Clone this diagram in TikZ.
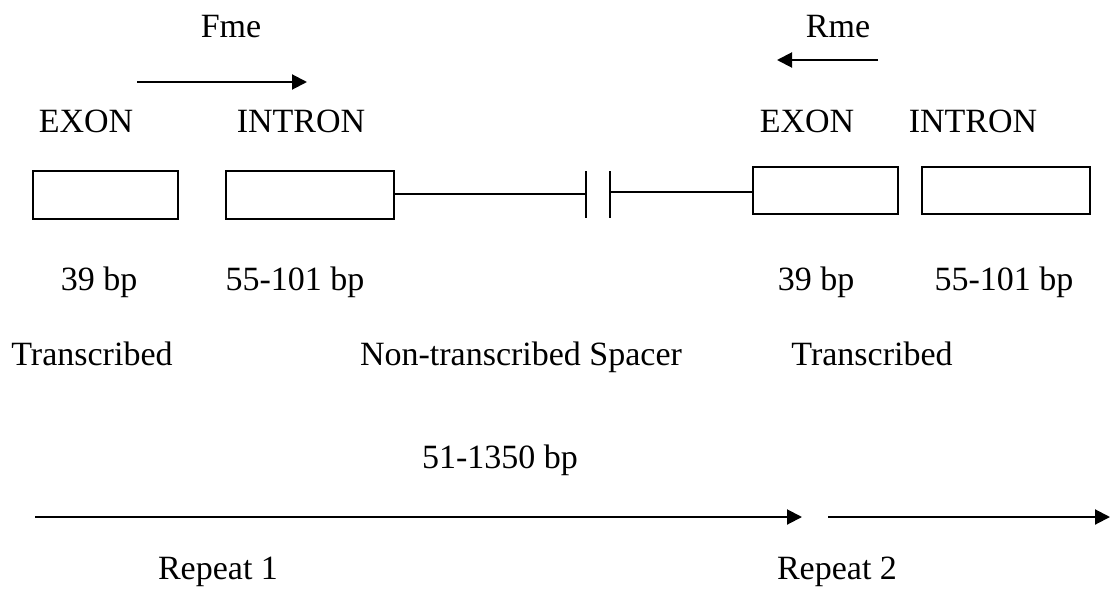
\documentclass[tikz,border=0pt]{standalone}
\usepackage{fontspec}
\setmainfont{Liberation Serif}
\usetikzlibrary{arrows.meta}
\begin{document}
\begin{tikzpicture}[x=1pt,y=-1pt,
  lbl/.style={anchor=base,inner sep=0pt,font=\fontsize{34}{40}\selectfont},
  gbox/.style={draw,line width=2pt,minimum width=#1,minimum height=48pt,inner sep=0pt},
  thin/.style={line width=1.6pt},
  bar/.style={line width=2.2pt},
  arr/.style={line width=2pt,-{Triangle[length=15pt,width=15pt]}}]
\useasboundingbox (0,0) rectangle (1110,589);
% primer labels and arrows
\node[lbl] (fme) at (231,37) {Fme};
\node[lbl] (rme) at (838,37) {Rme};
\coordinate (fa1) at (137,82);
\coordinate (fa2) at (307,82);
\draw[arr] (fa1) -- (fa2);
\coordinate (ra1) at (878,60);
\coordinate (ra2) at (777,60);
\draw[arr] (ra1) -- (ra2);
% EXON / INTRON labels
\node[lbl] (ex1) at (86,132) {EXON};
\node[lbl] (in1) at (301,132) {INTRON};
\node[lbl] (ex2) at (807,132) {EXON};
\node[lbl] (in2) at (973,132) {INTRON};
% boxes
\node[gbox=145pt] (b1) at (105.5,194.5) {};
\node[gbox=168pt] (b2) at (310,194.5) {};
\node[gbox=145pt,minimum height=47pt] (b3) at (825.5,190.5) {};
\node[gbox=168pt,minimum height=47pt] (b4) at (1006,190.5) {};
% spacer with break
\coordinate (k1) at (586,194);
\coordinate (k1t) at (586,171);
\coordinate (k1b) at (586,218);
\coordinate (k2) at (610,192);
\coordinate (k2t) at (610,171);
\coordinate (k2b) at (610,218);
\draw[thin] (b2.east |- k1) -- (k1);
\draw[bar] (k1t) -- (k1b);
\draw[bar] (k2t) -- (k2b);
\draw[thin] (k2) -- (b3.west |- k2);
% sizes
\node[lbl] (s1) at (99,290) {39 bp};
\node[lbl] (s2) at (295,290) {55-101 bp};
\node[lbl] (s3) at (816,290) {39 bp};
\node[lbl] (s4) at (1004,290) {55-101 bp};
% regions
\node[lbl] (t1) at (92,365) {Transcribed};
\node[lbl] (ns) at (521,365) {Non-transcribed Spacer};
\node[lbl] (t2) at (872,365) {Transcribed};
% repeat
\node[lbl] (len) at (500,468) {51-1350 bp};
\coordinate (r1a) at (35,517);
\coordinate (r1b) at (802,517);
\coordinate (r2a) at (828,517);
\coordinate (r2b) at (1110,517);
\draw[arr] (r1a) -- (r1b);
\draw[arr] (r2a) -- (r2b);
\node[lbl] (rp1) at (218,579) {Repeat 1};
\node[lbl] (rp2) at (837,579) {Repeat 2};
\end{tikzpicture}
\end{document}
